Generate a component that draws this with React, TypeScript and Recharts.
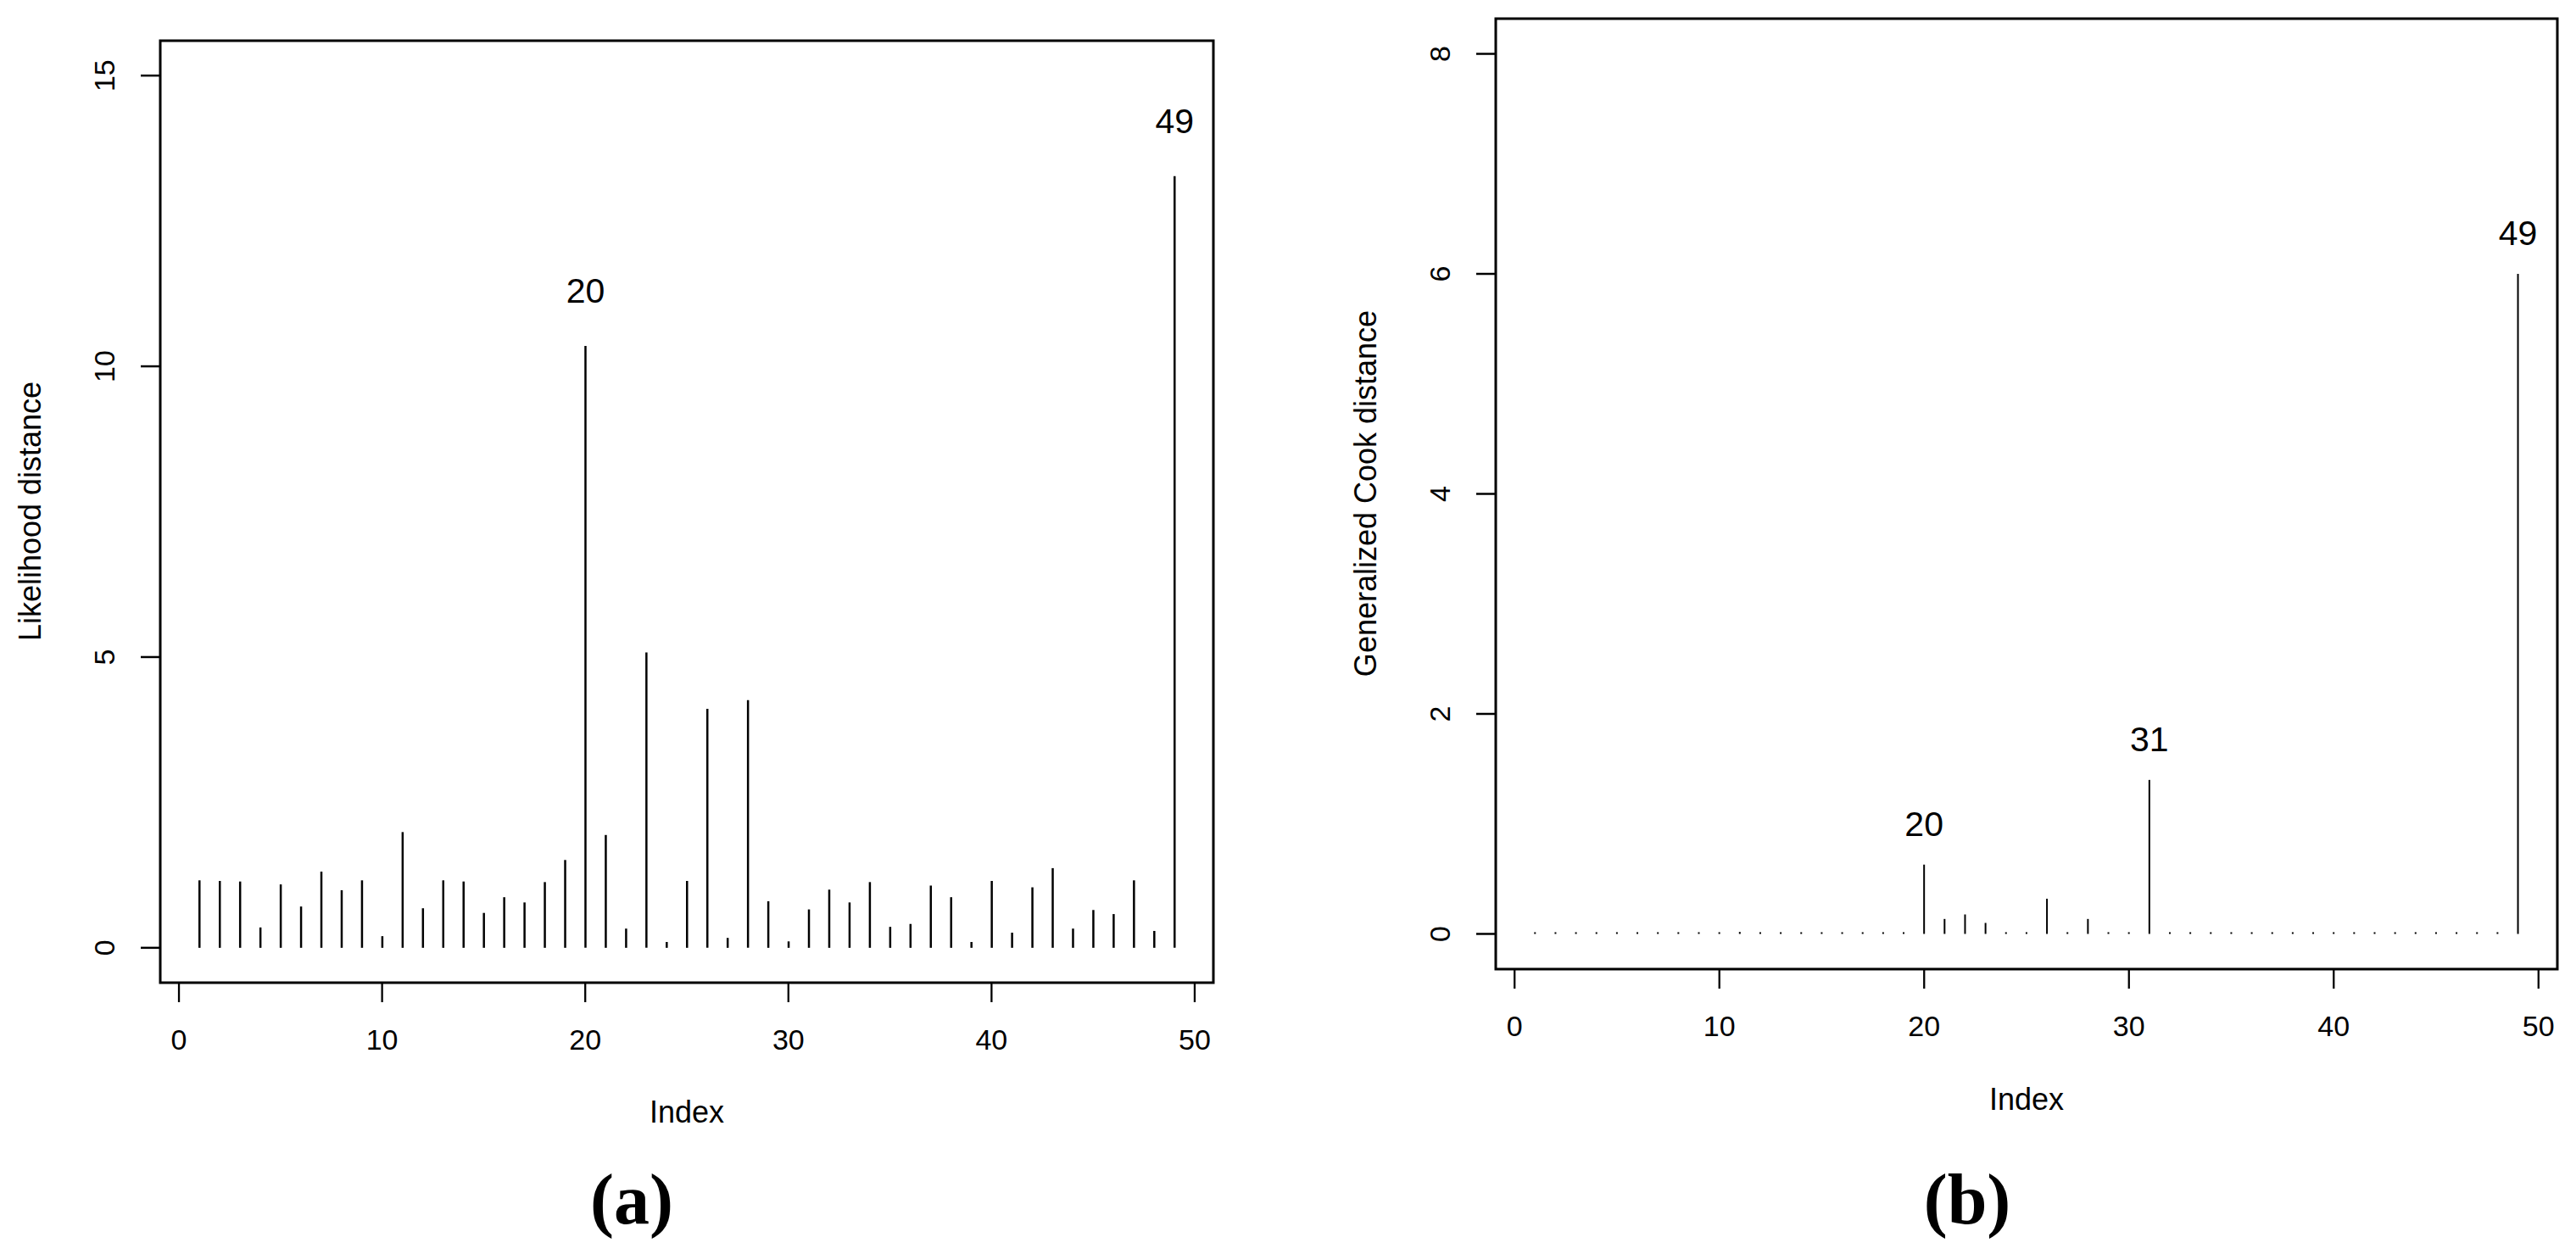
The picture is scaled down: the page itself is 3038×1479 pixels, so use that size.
// App.tsx - influence index plots (likelihood distance / generalized Cook distance)

import React from 'react';
import { BarChart, Bar, XAxis, YAxis, ReferenceArea, LabelList } from 'recharts';

const indices = [
  1, 2, 3, 4, 5, 6, 7, 8, 9, 10, 11, 12, 13, 14, 15, 16, 17, 18, 19, 20, 21, 22, 23, 24, 25,
  26, 27, 28, 29, 30, 31, 32, 33, 34, 35, 36, 37, 38, 39, 40, 41, 42, 43, 44, 45, 46, 47, 48, 49,
];

const likelihoodDist = [
  1.16, 1.15, 1.14, 0.35, 1.09, 0.71, 1.31, 0.99, 1.16, 0.2,
  1.99, 0.68, 1.16, 1.14, 0.6, 0.87, 0.78, 1.13, 1.51, 10.35,
  1.94, 0.33, 5.08, 0.1, 1.15, 4.11, 0.17, 4.26, 0.8, 0.11,
  0.66, 1.0, 0.78, 1.13, 0.36, 0.41, 1.07, 0.87, 0.1, 1.15,
  0.26, 1.04, 1.37, 0.33, 0.65, 0.58, 1.16, 0.29, 13.27,
];

const cookDist = [
  0.01, 0.01, 0.012, 0.01, 0.011, 0.01, 0.012, 0.01, 0.011, 0.01,
  0.018, 0.01, 0.011, 0.012, 0.01, 0.011, 0.01, 0.01, 0.012,
  0.63, 0.136, 0.177, 0.1, 0.012, 0.01, 0.32, 0.012, 0.136, 0.01, 0.011, 1.4,
  0.01, 0.011, 0.01, 0.012, 0.01, 0.01, 0.011, 0.01, 0.012, 0.01, 0.011, 0.01, 0.01, 0.012,
  0.011, 0.01, 0.012,
  6.0,
];

const labelledA = [20, 49];
const labelledB = [20, 31, 49];

const xTicks = [0, 10, 20, 30, 40, 50];
const yTicksA = [0, 5, 10, 15];
const yTicksB = [0, 2, 4, 6, 8];

const dataA = indices.map((idx, i) => ({
  idx,
  d: likelihoodDist[i],
  tag: labelledA.includes(idx) ? String(idx) : '',
}));

const dataB = indices.map((idx, i) => ({
  idx,
  d: cookDist[i],
  tag: labelledB.includes(idx) ? String(idx) : '',
}));

const FONT = '"Liberation Sans", Arial, Helvetica, sans-serif';

const RotatedTick = (props: any) => {
  const { x, y, payload } = props;
  return (
    <text
      x={x}
      y={y}
      transform={`rotate(-90 ${x} ${y})`}
      textAnchor="middle"
      dominantBaseline="central"
      fontSize={34}
      fill="#000"
      fontFamily={FONT}
    >
      {payload.value}
    </text>
  );
};

const makeTag = (offset: number) => (props: any) => {
  const vb = props.viewBox || props;
  if (!props.value) return null;
  const cx = Number(vb.x) + Number(vb.width) / 2;
  const top = Math.min(Number(vb.y), Number(vb.y) + Number(vb.height));
  return (
    <text x={cx} y={top - offset} textAnchor="middle" fontSize={41} fill="#000" fontFamily={FONT}>
      {props.value}
    </text>
  );
};

const IndexPlot = ({ data, yDomain, yTicks, margin, width, barSize, tagOffset, minPoint }: any) => (
  <BarChart width={width} height={1380} data={data} margin={margin} baseValue={0}>
    <XAxis
      type="number"
      dataKey="idx"
      domain={[-0.92, 50.92]}
      allowDataOverflow
      ticks={xTicks}
      interval={0}
      height={150}
      tickSize={23}
      tickMargin={32}
      axisLine={false}
      tickLine={{ stroke: '#000', strokeWidth: 2.3 }}
      tick={{ fill: '#000', fontSize: 34, fontFamily: FONT }}
    />
    <YAxis
      type="number"
      domain={yDomain}
      allowDataOverflow
      ticks={yTicks}
      interval={0}
      width={150}
      tickSize={23}
      tickMargin={43}
      axisLine={false}
      tickLine={{ stroke: '#000', strokeWidth: 2.5 }}
      tick={<RotatedTick />}
    />
    <Bar dataKey="d" fill="#000" barSize={barSize} minPointSize={minPoint} isAnimationActive={false}>
      <LabelList dataKey="tag" content={makeTag(tagOffset)} />
    </Bar>
    <ReferenceArea
      x1={-0.92}
      x2={50.92}
      y1={yDomain[0]}
      y2={yDomain[1]}
      fill="none"
      fillOpacity={0}
      stroke="#000"
      strokeWidth={3}
      strokeOpacity={1}
      ifOverflow="visible"
    />
  </BarChart>
);

export default function App() {
  return (
    <div
      style={{
        position: 'absolute',
        left: 0,
        top: 0,
        width: 3038,
        height: 1479,
        background: '#fff',
        fontFamily: FONT,
      }}
    >
      <div style={{ position: 'absolute', left: 0, top: 0 }}>
        <IndexPlot
          data={dataA}
          yDomain={[-0.6, 15.6]}
          yTicks={yTicksA}
          width={1500}
          margin={{ top: 48, right: 69, bottom: 71, left: 39 }}
          barSize={2.5}
          tagOffset={51}
          minPoint={0}
        />
      </div>
      <div style={{ position: 'absolute', left: 1519, top: 0 }}>
        <IndexPlot
          data={dataB}
          yDomain={[-0.32, 8.32]}
          yTicks={yTicksB}
          width={1519}
          margin={{ top: 22, right: 22, bottom: 87, left: 95 }}
          barSize={2}
          tagOffset={34}
          minPoint={2}
        />
      </div>
      <svg
        width={3038}
        height={1479}
        style={{ position: 'absolute', left: 0, top: 0, pointerEvents: 'none' }}
      >
        <text
          x={35}
          y={603}
          transform="rotate(-90 35 603)"
          textAnchor="middle"
          dominantBaseline="central"
          fontSize={36}
          fontFamily={FONT}
        >
          Likelihood distance
        </text>
        <text
          x={1610}
          y={582}
          transform="rotate(-90 1610 582)"
          textAnchor="middle"
          dominantBaseline="central"
          fontSize={36}
          fontFamily={FONT}
        >
          Generalized Cook distance
        </text>
        <text x={810} y={1324} textAnchor="middle" fontSize={36} fontFamily={FONT}>
          Index
        </text>
        <text x={2390} y={1309} textAnchor="middle" fontSize={36} fontFamily={FONT}>
          Index
        </text>
        <text
          x={745}
          y={1443}
          textAnchor="middle"
          fontSize={84}
          fontWeight="bold"
          fontFamily='"Liberation Serif", "Times New Roman", serif'
        >
          (a)
        </text>
        <text
          x={2320}
          y={1443}
          textAnchor="middle"
          fontSize={84}
          fontWeight="bold"
          fontFamily='"Liberation Serif", "Times New Roman", serif'
        >
          (b)
        </text>
      </svg>
    </div>
  );
}
